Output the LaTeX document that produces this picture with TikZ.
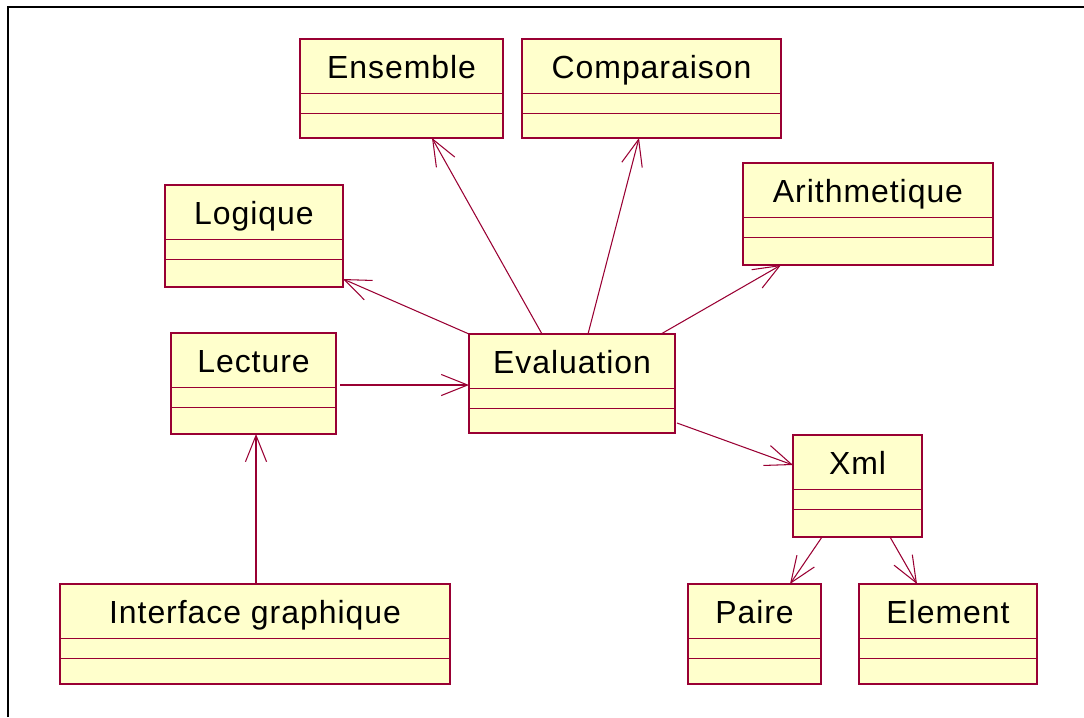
\documentclass[tikz,border=0pt]{standalone}
\usepackage{fontspec}
\setmainfont[LetterSpace=3]{Liberation Sans}
\usetikzlibrary{arrows.meta,calc}

\definecolor{umlfill}{HTML}{FFFFCC}
\definecolor{umlline}{HTML}{990033}

% class box: #1 name, #2 left, #3 top, #4 right, #5 bottom, #6 title
\newcommand\umlclass[6]{%
  \node[classbox, anchor=north west,
        minimum width={(#4-#2)*0.02cm}, minimum height={(#5-#3)*0.02cm}]
        (#1) at (#2,#3) {};
  \node[classname, anchor=base] (#1-t) at ({(#2+#4)/2},{#3+39}) {#6};
  \draw[divider] ($(#1.north west)+(0,54)$) -- ($(#1.north east)+(0,54)$);
  \draw[divider] ($(#1.north west)+(0,74)$) -- ($(#1.north east)+(0,74)$);
}

\begin{document}
\begin{tikzpicture}[x=0.02cm, y=-0.02cm,
  classbox/.style={draw=umlline, fill=umlfill, line width=0.75pt,
                   inner sep=0pt, outer sep=0pt, rectangle},
  classname/.style={font=\fontsize{18.2}{20}\selectfont, text=black, inner sep=0pt},
  divider/.style={draw=umlline, line width=0.55pt},
  dep/.style={draw=umlline, line width=0.6pt,
              -{Straight Barb[length=15pt, width=12pt, line width=0.6pt]}},
  frameline/.style={draw=black, line width=1.3pt}]

\useasboundingbox (0,0) rectangle (1084,717);

% outer frame (left and top edges only)
\draw[frameline] (8,717) -- (8,7) -- (1084,7);

\umlclass{ens}{300}{39}{503}{138}{Ensemble}
\umlclass{comp}{522}{39}{781}{138}{Comparaison}
\umlclass{logi}{165}{185}{343}{287}{Logique}
\umlclass{arith}{743}{163}{993}{265}{Arithmetique}
\umlclass{lect}{171}{333}{336}{434}{Lecture}
\umlclass{eval}{469}{334}{675}{433}{Evaluation}
\umlclass{xml}{793}{435}{922}{537}{Xml}
\umlclass{iface}{60}{584}{450}{684}{Interface graphique}
\umlclass{paire}{688}{584}{821}{684}{Paire}
\umlclass{elem}{859}{584}{1037}{684}{Element}

% dependencies
\draw[dep] ($(eval.north west)+(73,0)$) -- ($(ens.south west)+(132,0)$);
\draw[dep] ($(eval.north west)+(119,0)$) -- ($(comp.south west)+(117,0)$);
\draw[dep] (eval.north west) -- ($(logi.north east)+(0,94)$);
\draw[dep] ($(eval.north west)+(192,0)$) -- ($(arith.south west)+(38,0)$);
\draw[dep] ($(lect.north east)+(4,52)$) -- ($(eval.north west)+(0,51)$);
\draw[dep] ($(eval.north east)+(2,89)$) -- ($(xml.north west)+(0,30)$);
\draw[dep] ($(iface.north west)+(196,0)$) -- ($(lect.south west)+(85,0)$);
\draw[dep] ($(xml.south west)+(29,0)$) -- ($(paire.north west)+(102,0)$);
\draw[dep] ($(xml.south west)+(97,0)$) -- ($(elem.north west)+(58,0)$);

\end{tikzpicture}
\end{document}
